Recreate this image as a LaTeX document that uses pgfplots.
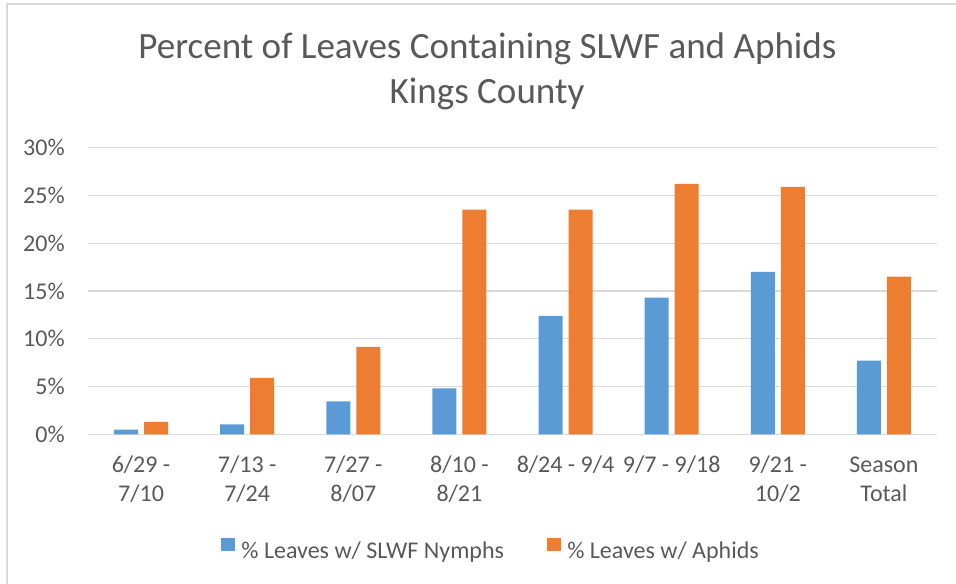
\documentclass[border=0pt]{standalone}
\usepackage{pgfplots}
\pgfplotsset{compat=1.18}
\usepackage{fontspec}
\setmainfont{Carlito}
\definecolor{txtgray}{RGB}{89,89,89}
\definecolor{gridgray}{RGB}{217,217,217}
\definecolor{xlblue}{RGB}{91,155,213}
\definecolor{xlorange}{RGB}{237,125,49}
\begin{document}
\begin{tikzpicture}[x=0.75pt,y=0.75pt]
\path[use as bounding box] (0,0) rectangle (956,584);
\draw[gridgray, line width=1.1pt] (7,-20) -- (7,580) -- (980,580);
\node[anchor=base, text=txtgray, inner sep=0pt, font=\fontsize{27.8}{33}\selectfont] at (487.5,525) {Percent of Leaves Containing SLWF and Aphids};
\node[anchor=base, text=txtgray, inner sep=0pt, font=\fontsize{27.8}{33}\selectfont] at (487,480) {Kings County};
\begin{axis}[
  at={(66pt,112.275pt)}, anchor=south west,
  scale only axis, width=636.75pt, height=215pt,
  ymin=0, ymax=30, xmin=-0.5, xmax=7.5,
  ybar=4.5pt, bar width=18pt,
  axis line style={draw=none},
  tick style={draw=none},
  major tick length=0pt,
  ymajorgrids, grid style={gridgray, line width=0.9pt},
  ytick={0,5,10,15,20,25,30},
  yticklabel={\pgfmathprintnumber{\tick}\%},
  /pgf/number format/assume math mode=true,
  yticklabel style={anchor=east, inner sep=0pt, xshift=-17.25pt, text=txtgray, font=\fontsize{18}{22}\selectfont},
  xtick={0,1,2,3,4,5,6,7},
  xticklabels={{\strut 6/29 -\\7/10},{\strut 7/13 -\\7/24},{\strut 7/27 -\\8/07},{\strut 8/10 -\\8/21},{\strut 8/24 - 9/4},{\strut 9/7 - 9/18},{\strut 9/21 -\\10/2},{\strut Season\\Total}},
  xticklabel style={anchor=north, inner sep=0pt, yshift=-13.1pt, align=center, text=txtgray, font=\fontsize{18}{22}\selectfont},
  legend columns=2,
  legend style={at={(0.4735,-0.40)}, anchor=center, draw=none, fill=none,
    font=\fontsize{18}{22}\selectfont, text=txtgray,
    nodes={inner sep=0pt},
    /tikz/every odd column/.append style={column sep=4.7pt},
    /tikz/every even column/.append style={column sep=32.25pt}},
  legend image code/.code={\fill[#1] (0pt,-0.5pt) rectangle (10.5pt,9.75pt);},
]
\addplot[fill=xlblue, draw=none] coordinates {(0,0.5) (1,1.05) (2,3.45) (3,4.8) (4,12.4) (5,14.3) (6,17.0) (7,7.7)};
\addplot[fill=xlorange, draw=none] coordinates {(0,1.3) (1,5.9) (2,9.15) (3,23.5) (4,23.5) (5,26.2) (6,25.9) (7,16.5)};
\legend{\% Leaves w/ SLWF Nymphs, \% Leaves w/ Aphids}
\end{axis}
\end{tikzpicture}
\end{document}
